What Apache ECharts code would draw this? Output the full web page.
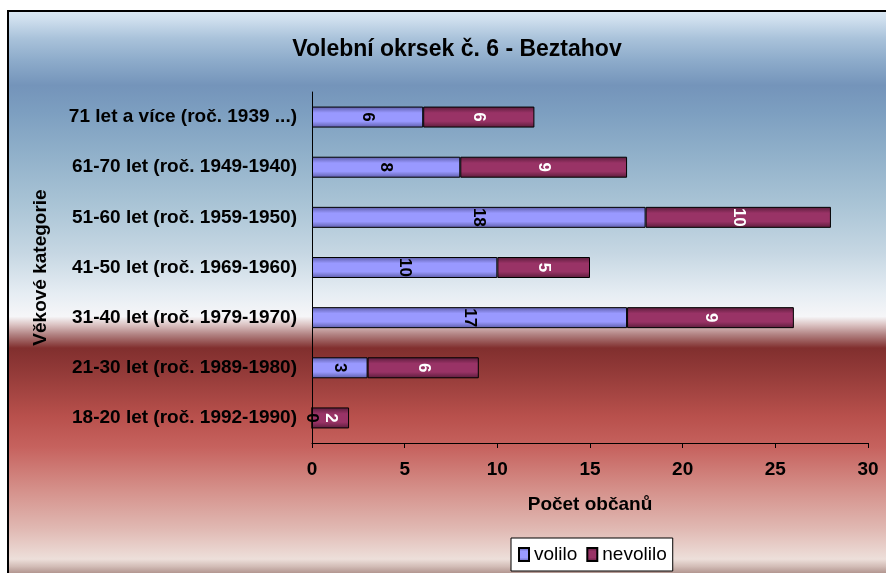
<!DOCTYPE html>
<html>
<head>
<meta charset="utf-8">
<script src="https://cdn.jsdelivr.net/npm/echarts@6/dist/echarts.min.js"></script>
<style>
html,body{margin:0;padding:0;background:#fff;}
#chart{width:886px;height:573px;}
</style>
</head>
<body>
<div id="chart"></div>
<script>
// data
var categories = [
    '18-20 let (roč. 1992-1990)',
    '21-30 let (roč. 1989-1980)',
    '31-40 let (roč. 1979-1970)',
    '41-50 let (roč. 1969-1960)',
    '51-60 let (roč. 1959-1950)',
    '61-70 let (roč. 1949-1940)',
    '71 let a více (roč. 1939 ...)'
];
var volilo = [0, 3, 17, 10, 18, 8, 6];
var nevolilo = [2, 6, 9, 5, 10, 9, 6];
var xTicks = [0, 30, 5];

var font = '"Liberation Sans", Arial, sans-serif';

var chart = echarts.init(document.getElementById('chart'));

function barFill(edge, mid){
    return new echarts.graphic.LinearGradient(0, 0, 0, 1, [
        {offset: 0, color: edge},
        {offset: 0.3, color: mid},
        {offset: 0.7, color: mid},
        {offset: 1, color: edge}
    ]);
}

var option = {
    animation: false,
    graphic: [{
        type: 'rect',
        z: -10,
        silent: true,
        shape: {x: 8, y: 11, width: 900, height: 570},
        style: {
            stroke: '#000',
            lineWidth: 2,
            fill: new echarts.graphic.LinearGradient(0, 0, 0, 1, [
                {offset: 0, color: '#dce9f4'},
                {offset: 0.016, color: '#cfdfee'},
                {offset: 0.05, color: '#a9c2da'},
                {offset: 0.087, color: '#8eaccb'},
                {offset: 0.132, color: '#7494ba'},
                {offset: 0.176, color: '#7c9ec0'},
                {offset: 0.247, color: '#8fafc9'},
                {offset: 0.336, color: '#a8c3d5'},
                {offset: 0.425, color: '#c6d7e3'},
                {offset: 0.496, color: '#e6edf3'},
                {offset: 0.536, color: '#f6f6f8'},
                {offset: 0.55, color: '#dcc4c4'},
                {offset: 0.568, color: '#b08080'},
                {offset: 0.591, color: '#812f2e'},
                {offset: 0.64, color: '#963c3a'},
                {offset: 0.71, color: '#b8504c'},
                {offset: 0.764, color: '#c6625e'},
                {offset: 0.835, color: '#d48e88'},
                {offset: 0.906, color: '#e0b8b2'},
                {offset: 0.96, color: '#eddfda'},
                {offset: 0.973, color: '#d2bcb6'},
                {offset: 0.988, color: '#a88a84'},
                {offset: 1, color: '#8a6c66'}
            ])
        }
    }],
    title: {
        text: 'Volební okrsek č. 6 - Beztahov',
        left: 452,
        top: 33,
        textAlign: 'center',
        textStyle: {fontFamily: font, fontSize: 23, fontWeight: 'bold', color: '#000'}
    },
    legend: {
        left: 511,
        top: 538,
        data: ['volilo', 'nevolilo'],
        backgroundColor: '#fff',
        borderColor: '#000',
        borderWidth: 1,
        borderRadius: 0,
        padding: [7, 6, 7, 7],
        itemWidth: 10,
        itemHeight: 13,
        itemGap: 9,
        icon: 'rect',
        textStyle: {fontFamily: font, fontSize: 19, color: '#000', padding: [0, 0, 0, 0]}
    },
    grid: {
        left: 312,
        right: 18,
        top: 92,
        bottom: 130
    },
    xAxis: {
        type: 'value',
        min: xTicks[0],
        max: xTicks[1],
        interval: xTicks[2],
        name: 'Počet občanů',
        nameLocation: 'middle',
        nameGap: 52,
        nameTextStyle: {fontFamily: font, fontSize: 19, fontWeight: 'bold', color: '#000'},
        axisLine: {show: true, lineStyle: {color: '#000', width: 1}},
        axisTick: {show: true, length: 5, lineStyle: {color: '#000'}},
        axisLabel: {fontFamily: font, fontSize: 19, fontWeight: 'bold', color: '#000', margin: 17},
        splitLine: {show: false}
    },
    yAxis: {
        type: 'category',
        data: categories,
        name: 'Věkové kategorie',
        nameLocation: 'middle',
        nameGap: 262,
        nameRotate: 90,
        nameTextStyle: {fontFamily: font, fontSize: 19, fontWeight: 'bold', color: '#000'},
        axisLine: {show: true, lineStyle: {color: '#000', width: 1}},
        axisTick: {show: false},
        axisLabel: {fontFamily: font, fontSize: 19, fontWeight: 'bold', color: '#000', margin: 15}
    },
    series: [{
        name: 'volilo',
        type: 'bar',
        stack: 'all',
        barWidth: 21,
        data: volilo,
        itemStyle: {
            color: barFill('#5c5ca8', '#9999ff'),
            borderColor: '#000',
            borderWidth: 1
        },
        label: {
            show: true,
            position: 'inside',
            rotate: -90,
            fontFamily: font,
            fontSize: 17,
            fontWeight: 'bold',
            color: '#000'
        }
    }, {
        name: 'nevolilo',
        type: 'bar',
        stack: 'all',
        barWidth: 21,
        data: nevolilo,
        itemStyle: {
            color: barFill('#5a1c3a', '#993366'),
            borderColor: '#000',
            borderWidth: 1
        },
        label: {
            show: true,
            position: 'inside',
            rotate: -90,
            fontFamily: font,
            fontSize: 17,
            fontWeight: 'bold',
            color: '#fff'
        }
    }]
};

chart.setOption(option);
window.onresize = function(){
    chart.resize();
};
</script>
</body>
</html>
